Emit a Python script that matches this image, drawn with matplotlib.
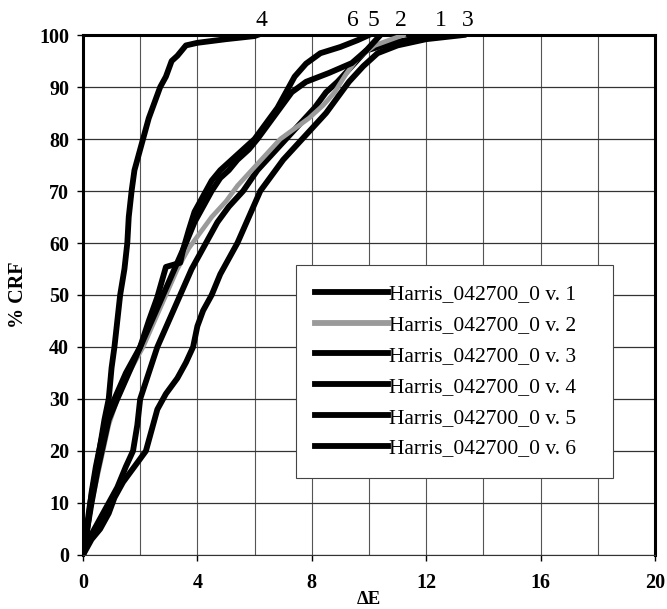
import numpy as np
import matplotlib
matplotlib.use("Agg")
import matplotlib.pyplot as plt

plt.rcParams["font.family"] = "Liberation Serif"
plt.rcParams["font.weight"] = "bold"

# data (dE, % CRF)
x1 = [0, 0.3, 0.6, 0.9, 1.2, 1.5, 1.75, 1.9, 2.0, 2.3, 2.6, 3.0, 3.4, 3.8, 4.3, 4.7, 5.1, 5.6,
      6.1, 6.6, 7.1, 7.6, 8.1, 8.5, 8.9, 9.4, 9.9, 10.8, 11.6, 12.5]
y1 = [0, 4, 7, 10, 13, 17, 20, 25, 30, 35, 40, 45, 50, 55, 60, 64, 67, 70,
      74, 77, 80, 83, 86, 89, 91, 94, 97, 98.5, 99.3, 100]

x2 = [0, 0.15, 0.3, 0.5, 0.7, 0.9, 1.2, 1.6, 2.1, 2.5, 2.9, 3.3, 3.7, 4.1, 4.5, 5.0, 5.4, 5.9,
      6.4, 6.9, 7.4, 7.9, 8.4, 8.8, 9.2, 9.6, 10.2, 10.7, 11.2]
y2 = [0, 5, 10, 15, 20, 25, 30, 35, 40, 45, 50, 55, 59, 62, 65, 68, 71, 74,
      77, 80, 82, 84, 86.5, 89, 92.5, 95.5, 98, 99, 100]

x3 = [0, 0.3, 0.6, 0.9, 1.1, 1.4, 1.8, 2.2, 2.4, 2.6, 2.9, 3.3, 3.6, 3.85, 4.0, 4.2, 4.5, 4.8,
      5.1, 5.4, 5.8, 6.2, 6.6, 7.0, 7.5, 8.0, 8.5, 8.9, 9.3, 9.8, 10.3, 11.0, 12.0, 13.3]
y3 = [0, 3, 5, 8, 11, 14, 17, 20, 24, 28, 31, 34, 37, 40, 44, 47, 50, 54,
      57, 60, 65, 70, 73, 76, 79, 82, 85, 88, 91, 94, 96.5, 98, 99.2, 100]

x4 = [0, 0.1, 0.2, 0.3, 0.45, 0.6, 0.75, 0.9, 1.0, 1.1, 1.2, 1.3, 1.45, 1.55, 1.6, 1.7, 1.8,
      2.0, 2.1, 2.3, 2.5, 2.7, 2.9, 3.1, 3.3, 3.6, 4.0, 5.0, 6.0, 6.1]
y4 = [0, 3, 7, 12, 17, 21, 26, 30, 36, 40, 45, 50, 55, 60, 65, 70, 74,
      78, 80, 84, 87, 90, 92, 95, 96, 98, 98.5, 99.2, 99.8, 100]

x5 = [0, 0.15, 0.3, 0.5, 0.7, 0.9, 1.2, 1.6, 2.0, 2.4, 2.8, 3.2, 3.6, 3.9, 4.2, 4.5, 4.8, 5.1,
      5.4, 5.8, 6.1, 6.5, 6.9, 7.3, 7.8, 8.6, 9.4, 9.9, 10.4]
y5 = [0, 5, 10, 16, 21, 26, 30, 35, 40, 45, 50, 55, 60, 64, 67, 70, 72.5, 74,
      76, 78, 80, 83, 86, 89, 91, 92.7, 94.6, 97, 100]

x6 = [0, 0.1, 0.25, 0.45, 0.6, 0.8, 1.1, 1.5, 2.0, 2.3, 2.6, 2.9, 3.4, 3.5, 3.7, 3.9, 4.2, 4.5,
      4.8, 5.2, 5.6, 6.0, 6.4, 6.8, 7.1, 7.4, 7.8, 8.3, 9.0, 9.6, 10.0]
y6 = [0, 4, 10, 16, 21, 26, 30, 35, 40, 45, 49.6, 55.4, 56.2, 58.7, 62.5, 66, 69, 72,
      74, 76, 78, 80, 83, 86, 89, 92, 94.5, 96.5, 97.7, 99, 100]

series = [(x1, y1), (x2, y2), (x3, y3), (x4, y4), (x5, y5), (x6, y6)]
names = ["Harris_042700_0 v. %d" % i for i in range(1, 7)]
colors = ["black", "#9a9a9a", "black", "black", "black", "black"]
end_labels = ["1", "2", "3", "4", "5", "6"]
label_x = [12.5, 11.1, 13.45, 6.25, 10.15, 9.45]

fig = plt.figure(figsize=(6.67, 6.09), dpi=100)
ax = fig.add_axes([0.1244, 0.0887, 0.8576, 0.8538])

for (xs, ys), name, c in zip(series, names, colors):
    ax.plot(xs, ys, color=c, lw=4.2 if c == "black" else 3.4, label=name,
            solid_joinstyle="round", zorder=3)

for lab, lx in zip(end_labels, label_x):
    ax.text(lx, 100.8, lab, ha="center", va="bottom", fontsize=17,
            fontweight="normal", clip_on=False)

ax.set_xlim(0, 20)
ax.set_ylim(0, 100)
ax.set_xticks(np.arange(0, 21, 4))
ax.set_xticks(np.arange(0, 21, 2), minor=True)
ax.set_yticks(np.arange(0, 101, 10))
ax.grid(True, which="both", axis="x", color="#555555", lw=0.8)
ax.grid(True, which="major", axis="y", color="#333333", lw=0.9)
ax.tick_params(axis="both", which="major", labelsize=14.5, length=4, width=1)
ax.tick_params(axis="x", which="minor", length=0)
ax.tick_params(axis="x", pad=9)
ax.tick_params(axis="y", pad=6)

for s in ["top", "left", "right"]:
    ax.spines[s].set_linewidth(2.2)
ax.spines["bottom"].set_linewidth(0.8)
ax.spines["bottom"].set_color("#333333")

ax.set_xlabel("\u0394E", fontsize=13.5, fontweight="bold", va="center")
ax.xaxis.set_label_coords(0.5, -0.085)
ax.set_ylabel("% CRF", fontsize=14.5, fontweight="bold", labelpad=8)

leg = ax.legend(loc="upper left", bbox_to_anchor=(0.372, 0.15, 0.555, 0.408),
                mode="expand", borderaxespad=0,
                handlelength=3.4, handletextpad=0.05, labelspacing=0.5,
                borderpad=0.9, fancybox=False, framealpha=1, edgecolor="#444444",
                prop={"family": "Liberation Serif", "weight": "normal", "size": 15.5})
leg.get_frame().set_linewidth(0.8)
for h in leg.get_lines():
    h.set_linewidth(4.2)

plt.savefig("out.png", dpi=100)
